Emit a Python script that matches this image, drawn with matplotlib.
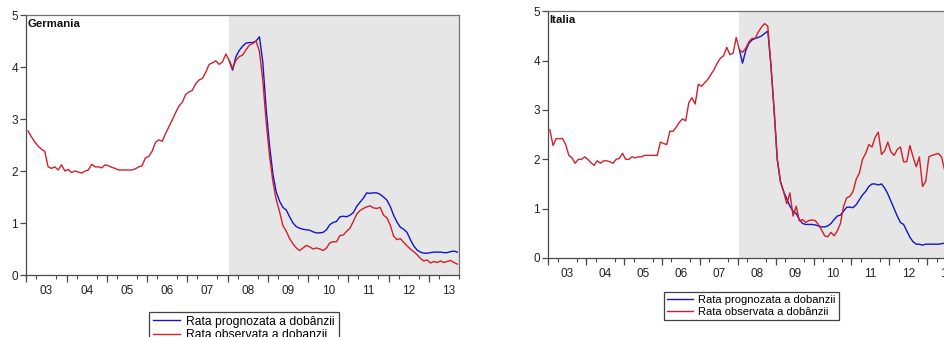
import numpy as np
import matplotlib
matplotlib.use("Agg")
import matplotlib.pyplot as plt

plt.rcParams['font.family'] = ['Liberation Sans', 'DejaVu Sans']

# monthly data, 2003M01 .. 2013M09
year_labels = ['03', '04', '05', '06', '07', '08', '09', '10', '11', '12', '13']
forecast_start = 60  # 2008M01

de_observed = [
    2.77, 2.66, 2.56, 2.48, 2.42, 2.38, 2.08, 2.05, 2.08, 2.02, 2.12, 2.00,
    2.03, 1.97, 2.00, 1.98, 1.96, 2.00, 2.02, 2.13, 2.08, 2.08, 2.06, 2.12,
    2.10, 2.07, 2.05, 2.02, 2.02, 2.02, 2.02, 2.02, 2.04, 2.08, 2.10, 2.25,
    2.28, 2.38, 2.55, 2.60, 2.57, 2.72, 2.85, 2.98, 3.12, 3.25, 3.32, 3.47,
    3.52, 3.55, 3.68, 3.75, 3.78, 3.90, 4.05, 4.08, 4.12, 4.05, 4.10, 4.25,
    4.12, 3.98, 4.13, 4.20, 4.23, 4.33, 4.42, 4.45, 4.50, 4.30, 3.75, 2.95,
    2.30, 1.80, 1.45, 1.22, 0.95, 0.84, 0.70, 0.60, 0.52, 0.47, 0.52, 0.57,
    0.54, 0.50, 0.52, 0.50, 0.47, 0.52, 0.62, 0.64, 0.64, 0.76, 0.77, 0.84,
    0.90, 1.03, 1.17, 1.24, 1.28, 1.31, 1.33, 1.29, 1.28, 1.30, 1.15, 1.10,
    0.96, 0.75, 0.68, 0.70, 0.63, 0.56, 0.50, 0.45, 0.39, 0.32, 0.27, 0.29,
    0.23, 0.26, 0.24, 0.27, 0.24, 0.26, 0.28, 0.24, 0.21]
de_forecast = [
    4.12, 3.94, 4.20, 4.32, 4.40, 4.46, 4.47, 4.47, 4.50, 4.58, 4.10, 3.20,
    2.50, 1.95, 1.60, 1.42, 1.30, 1.25, 1.12, 1.00, 0.93, 0.90, 0.88, 0.87,
    0.86, 0.83, 0.81, 0.81, 0.82, 0.87, 0.97, 1.01, 1.03, 1.12, 1.13, 1.12,
    1.15, 1.20, 1.32, 1.40, 1.48, 1.58, 1.57, 1.58, 1.58, 1.55, 1.50, 1.44,
    1.32, 1.15, 1.02, 0.92, 0.88, 0.82, 0.68, 0.56, 0.48, 0.44, 0.42, 0.42,
    0.43, 0.44, 0.44, 0.44, 0.43, 0.43, 0.45, 0.46, 0.44]

it_observed = [
    2.60, 2.28, 2.42, 2.42, 2.42, 2.30, 2.08, 2.03, 1.92, 2.00, 2.00, 2.05,
    2.00, 1.93, 1.88, 1.97, 1.92, 1.97, 1.97, 1.95, 1.92, 2.00, 2.02, 2.12,
    2.00, 2.00, 2.05, 2.03, 2.05, 2.05, 2.08, 2.08, 2.08, 2.08, 2.08, 2.35,
    2.32, 2.30, 2.57, 2.57, 2.65, 2.75, 2.82, 2.78, 3.15, 3.25, 3.12, 3.52,
    3.48, 3.55, 3.62, 3.72, 3.82, 3.95, 4.05, 4.10, 4.27, 4.12, 4.15, 4.47,
    4.22, 4.17, 4.25, 4.38, 4.45, 4.45, 4.58, 4.68, 4.75, 4.70, 3.90, 3.00,
    2.00, 1.55, 1.35, 1.10, 1.32, 0.85, 1.05, 0.75, 0.78, 0.72, 0.76, 0.77,
    0.76, 0.68, 0.57, 0.45, 0.43, 0.52, 0.45, 0.55, 0.70, 1.05, 1.22, 1.25,
    1.35, 1.60, 1.72, 2.00, 2.12, 2.30, 2.25, 2.45, 2.55, 2.10, 2.17, 2.35,
    2.15, 2.08, 2.20, 2.25, 1.95, 1.95, 2.28, 2.05, 1.85, 2.05, 1.45, 1.55,
    2.05, 2.08, 2.10, 2.12, 2.05, 1.78, 1.80, 1.75, 1.75]
it_forecast = [
    4.22, 3.95, 4.20, 4.35, 4.42, 4.45, 4.47, 4.50, 4.55, 4.60, 3.90, 3.00,
    2.00, 1.55, 1.35, 1.20, 1.05, 0.95, 0.90, 0.78, 0.70, 0.68, 0.68, 0.68,
    0.67, 0.65, 0.63, 0.63, 0.65, 0.70, 0.78, 0.85, 0.87, 0.95, 1.03, 1.03,
    1.02, 1.08, 1.18, 1.28, 1.35, 1.45, 1.50, 1.50, 1.48, 1.50, 1.42, 1.30,
    1.15, 1.00, 0.85, 0.72, 0.68, 0.55, 0.42, 0.33, 0.28, 0.28, 0.26, 0.28,
    0.28, 0.28, 0.28, 0.28, 0.29, 0.30, 0.30, 0.30, 0.30]

BLUE = '#1414c8'
RED = '#d0202c'
SHADE = '#e6e6e6'
FRAME = '#4a4a4a'


def draw_panel(ax, observed, forecast, title, legend_labels, legend_pos, fsize):
    n = len(observed)
    x = np.arange(n)
    xf = np.arange(forecast_start, forecast_start + len(forecast))
    ax.set_xlim(-0.5, n - 0.5)
    ax.set_ylim(0, 5)
    ax.axvspan(forecast_start, n - 0.5, color=SHADE, lw=0, zorder=0)
    l1, = ax.plot(xf, forecast, color=BLUE, lw=1.0, zorder=2)
    l2, = ax.plot(x, observed, color=RED, lw=1.0, zorder=3)

    for s in ax.spines.values():
        s.set_color('#707070')
        s.set_linewidth(0.9)
    ax.spines['left'].set_color(FRAME)
    ax.spines['bottom'].set_color(FRAME)

    ax.set_yticks(range(6))
    ax.tick_params(axis='y', direction='out', length=4, width=0.9,
                   color=FRAME, labelsize=8.5, labelcolor='#222222', pad=2)

    # year labels at mid-year, no tick mark
    ax.set_xticks([12 * k + 5.5 for k in range(len(year_labels))])
    ax.set_xticklabels(year_labels)
    ax.tick_params(axis='x', which='major', length=0, labelsize=8.5,
                   labelcolor='#222222', pad=7)
    ax.set_xticks(np.arange(-0.5, n, 3), minor=True)
    ax.tick_params(axis='x', which='minor', direction='out', length=3,
                   width=0.8, color=FRAME)
    sec = ax.secondary_xaxis('bottom')
    sec.set_xticks(np.arange(-0.5, n, 12))
    sec.set_xticklabels([])
    sec.tick_params(direction='out', length=5, width=0.9, color=FRAME)
    sec.spines['bottom'].set_visible(False)

    ax.text(0.002, 0.985, title, transform=ax.transAxes, ha='left', va='top',
            fontsize=8.2, fontweight='bold', color='#111111')

    fig = ax.figure
    leg = fig.legend([l1, l2], legend_labels, loc='upper left',
                     bbox_to_anchor=legend_pos, fontsize=fsize,
                     frameon=True, fancybox=False, handlelength=2.3,
                     handletextpad=0.5, labelspacing=0.12, borderpad=0.3,
                     borderaxespad=0)
    leg.get_frame().set_edgecolor('#111111')
    leg.get_frame().set_linewidth(0.9)


fig = plt.figure(figsize=(9.44, 3.37), dpi=100)
ax1 = fig.add_axes([26.3 / 944, 62 / 337, 432.7 / 944, 260 / 337])
ax2 = fig.add_axes([548.3 / 944, 79 / 337, 407.4 / 944, 246.7 / 337])

draw_panel(ax1, de_observed, de_forecast, 'Germania',
           ['Rata prognozata a dobânzii', 'Rata observata a dobanzii'],
           (149 / 944, 1 - 312 / 337), 8.7)
draw_panel(ax2, it_observed, it_forecast, 'Italia',
           ['Rata prognozata a dobanzii', 'Rata observata a dobânzii'],
           (664 / 944, 1 - 292 / 337), 8)

fig.savefig('out.png', dpi=100)
